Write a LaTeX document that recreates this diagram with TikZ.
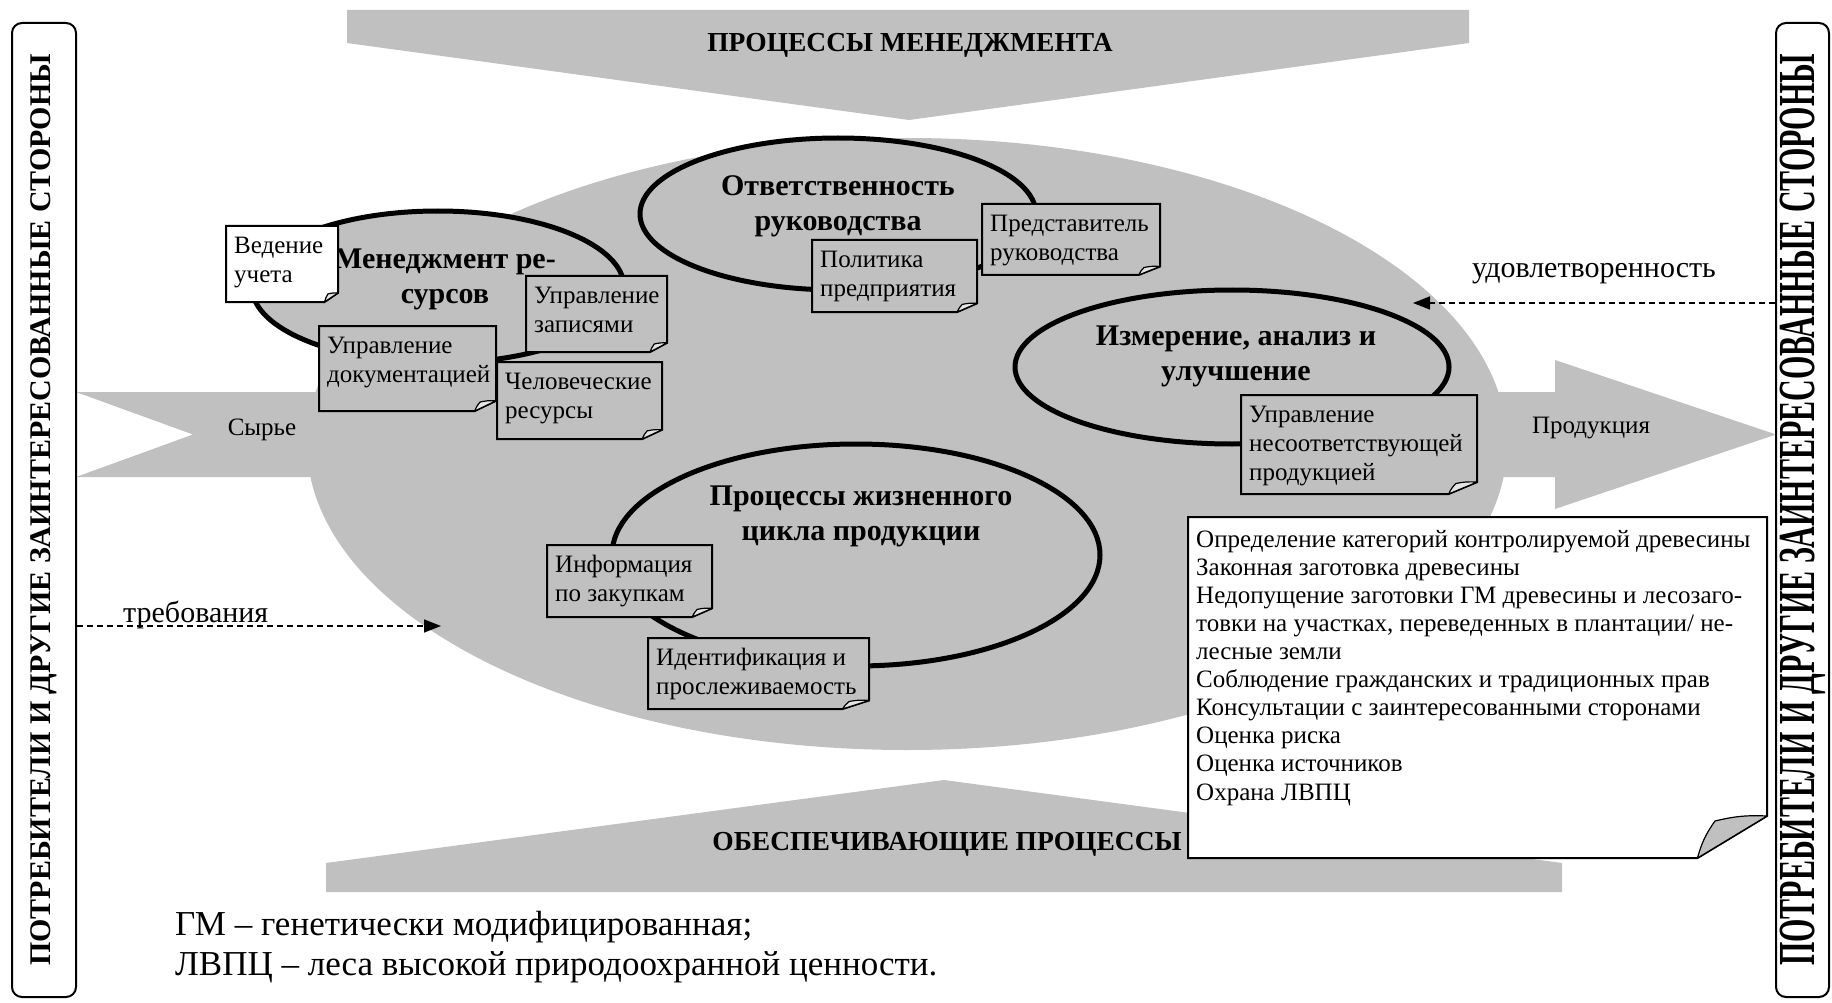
\documentclass[tikz,border=0pt]{standalone}
\usepackage{fontspec}
\usepackage{graphicx}
\setmainfont{Liberation Serif}
\usetikzlibrary{arrows.meta}
\definecolor{shade}{RGB}{192,192,192}
\definecolor{flapc}{RGB}{228,228,228}
\tikzset{
  gshape/.style={fill=shade, draw=none},
  procell/.style={fill=shade, draw=black, line width=5pt},
  ptitle/.style={inner sep=0pt, align=center, font=\fontsize{30}{35}\selectfont\bfseries},
  notefill/.style={fill=#1, draw=black, line width=2pt, line join=miter},
  flap/.style={fill=#1, draw=black, line width=1.2pt, line join=round},
  notetext/.style={inner sep=0pt, align=left, font=\fontsize{25}{29}\selectfont},
  listtext/.style={inner sep=0pt, align=left, font=\fontsize{25}{28.1}\selectfont},
  sidebox/.style={draw=black, line width=2pt, rounded corners=10pt, fill=white, inner sep=0pt},
  dasharrow/.style={draw=black, line width=1.5pt, dash pattern=on 6pt off 4pt, -{Triangle[length=17pt,width=13pt]}},
  lbl/.style={inner sep=0pt, font=\fontsize{30}{35}\selectfont},
  smalllbl/.style={inner sep=0pt, font=\fontsize{25}{29}\selectfont},
  captionlbl/.style={inner sep=0pt, font=\fontsize{27.5}{32}\selectfont\bfseries},
  footlbl/.style={inner sep=0pt, anchor=base west, font=\fontsize{35}{38}\selectfont},
}
% name, x1, y1, x2, y2, fill, flap fill, text
\newcommand\notebox[8]{%
  \pgfmathsetmacro\ndx{0.12*(#4-#2)}%
  \pgfmathsetmacro\ndy{0.12*(#5-#3)}%
  \pgfmathsetmacro\nxa{#4-\ndx}%
  \pgfmathsetmacro\nya{#5-\ndy}%
  \pgfmathsetmacro\nxc{\nxa+0.25*\ndx}%
  \pgfmathsetmacro\nyc{\nya+0.12*\ndy}%
  \path[notefill=#6] (#2,#3) -- (#4,#3) -- (#4,\nya) -- (\nxa,#5) -- (#2,#5) -- cycle;
  \path[flap=#7] (\nxa,#5) to[bend left=10] (\nxc,\nyc) to[bend left=8] (#4,\nya) -- cycle;
  \node[notetext, anchor=north west] (#1) at (#2+8,#3+6.7) {\strut #8};
}
\begin{document}
\begin{tikzpicture}[x=1pt, y=-1pt]
\useasboundingbox (0,0) rectangle (1832,1003);
\fill[white] (0,0) rectangle (1832,1003);

% large grey background shapes
\fill[gshape] (907,444) ellipse [x radius=600pt, y radius=306pt];
\fill[gshape] (347,10) -- (1469,10) -- (1469,43) -- (909,120) -- (347,43) -- cycle;
\fill[gshape] (326,892) -- (1562,892) -- (1562,863) -- (944,780) -- (326,863) -- cycle;
\fill[gshape] (76,392) -- (1555,392) -- (1555,360) -- (1776,434.5) -- (1555,509) -- (1555,477) -- (76,477) -- (193,434.5) -- cycle;

\node[captionlbl, anchor=base] (mgmt) at (910,52) {ПРОЦЕССЫ МЕНЕДЖМЕНТА};
\node[captionlbl, anchor=base] (supp) at (947,850) {ОБЕСПЕЧИВАЮЩИЕ ПРОЦЕССЫ};
\node[smalllbl, anchor=base] (raw) at (262,435) {Сырье};
\node[smalllbl, anchor=base] (prod) at (1591,433) {Продукция};

% process ellipses
\draw[procell] (438,287) ellipse [x radius=186pt, y radius=76pt];
\node[ptitle, anchor=north] (res) at (445,243.5) {\strut Менеджмент ре-\\сурсов};
\draw[procell] (838,214) ellipse [x radius=198pt, y radius=76pt];
\node[ptitle, anchor=north] (resp) at (838,170.5) {\strut Ответственность\\руководства};
\draw[procell] (1232,367) ellipse [x radius=217pt, y radius=77pt];
\node[ptitle, anchor=north] (meas) at (1236,320.5) {\strut Измерение, анализ и\\улучшение};
\draw[procell] (856,555) ellipse [x radius=244pt, y radius=111pt];
\node[ptitle, anchor=north] (life) at (861,480.5) {\strut Процессы жизненного\\цикла продукции};

% note boxes
\notebox{vedenie}{226}{226}{338}{302}{white}{flapc}{Ведение\\учета}
\notebox{zapisi}{526}{276}{667}{352}{shade}{flapc}{Управление\\записями}
\notebox{dokum}{319}{326}{496}{411}{shade}{flapc}{Управление\\документацией}
\notebox{chel}{497}{362}{662}{439}{shade}{flapc}{Человеческие\\ресурсы}
\notebox{polit}{812}{240}{977}{312}{shade}{flapc}{Политика\\предприятия}
\notebox{predst}{982}{204}{1160}{275}{shade}{flapc}{Представитель\\руководства}
\notebox{nesoot}{1241}{395}{1477}{494}{shade}{flapc}{Управление\\несоответствующей\\продукцией}
\notebox{info}{547}{545}{712}{617}{shade}{flapc}{Информация\\по закупкам}
\notebox{ident}{648}{638}{869}{709}{shade}{flapc}{Идентификация и\\прослеживаемость}

% big criteria box
\path[notefill=white] (1188,517) -- (1767,517) -- (1767,816) -- (1697.5,858) -- (1188,858) -- cycle;
\path[flap=shade] (1697.5,858) to[bend left=10] (1715,821) to[bend left=8] (1767,816) -- cycle;
\node[listtext, anchor=north west] (criteria) at (1196,527.3) {\strut Определение категорий контролируемой древесины\\Законная заготовка древесины\\Недопущение заготовки ГМ древесины и лесозаго-\\товки на участках, переведенных в плантации/ не-\\лесные земли\\Соблюдение гражданских и традиционных прав\\Консультации с заинтересованными сторонами\\Оценка риска\\Оценка источников\\Охрана ЛВПЦ};

% side boxes
\node[sidebox, rotate=90, minimum width=974pt, minimum height=64pt, font=\fontsize{30}{36}\selectfont\bfseries] (leftbox) at (44,510) {ПОТРЕБИТЕЛИ И ДРУГИЕ ЗАИНТЕРЕСОВАННЫЕ СТОРОНЫ};
\node[sidebox, rotate=90, minimum width=974pt, minimum height=53pt, font=\fontsize{52}{60}\selectfont\bfseries] (rightbox) at (1802.5,510) {\scalebox{0.577}[1]{ПОТРЕБИТЕЛИ И ДРУГИЕ ЗАИНТЕРЕСОВАННЫЕ СТОРОНЫ}};

% dashed flows
\coordinate (reqend) at (441,626);
\coordinate (satend) at (1413,303);
\draw[dasharrow] (leftbox.south |- reqend) -- (reqend);
\draw[dasharrow] (rightbox.north |- satend) -- (satend);
\node[lbl, anchor=base west] (req) at (123,622) {требования};
\node[lbl, anchor=base] (sat) at (1594,278) {удовлетворенность};

% footnotes
\node[footlbl] (fn1) at (175,935) {ГМ – генетически модифицированная;};
\node[footlbl] (fn2) at (175,975) {ЛВПЦ – леса высокой природоохранной ценности.};
\end{tikzpicture}
\end{document}
